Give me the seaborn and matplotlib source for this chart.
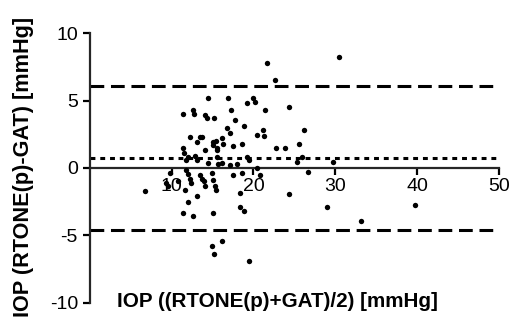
import numpy as np
import pandas as pd
import matplotlib
matplotlib.use("Agg")
import matplotlib.pyplot as plt
import seaborn as sns

sns.set_style("ticks")
plt.rcParams['font.family'] = ['Liberation Sans', 'DejaVu Sans']
plt.rcParams['axes.unicode_minus'] = False

# Bland-Altman data: mean of the two methods vs. their difference
mean_iop = [6.8, 9.8, 9.3, 9.5, 10.8, 11.6,
            11.4, 12.6, 12.7, 14.1, 14.3, 15.2,
            14.5, 16.9, 17.2, 19.2, 20.0, 20.2,
            17.8, 18.8, 20.4,
            12.2, 13.5, 13.1, 13.7,
            11.4, 11.5, 12.9, 13.1, 14.1,
            15.0, 15.1, 15.4, 15.5, 15.6, 16.1, 16.3,
            16.8, 17.1, 17.5, 18.6,
            21.6, 30.5, 22.6, 21.4, 24.3,
            21.2, 21.3, 26.2, 25.6, 22.8, 23.8,
            15.5, 19.2, 19.5, 25.3, 25.9, 29.7, 26.7,
            14.4, 16.1, 17.1, 18.0, 12.0, 11.8, 15.7,
            20.4, 20.8, 17.5, 18.6,
            11.8, 12.0, 12.2, 12.4,
            13.5, 13.7, 13.9, 14.1,
            14.9, 15.1, 15.3, 15.4,
            13.1, 12.0, 11.4, 12.6, 15.1,
            18.3, 24.4, 18.4, 18.8,
            29.0, 39.7, 33.2,
            14.9, 16.1, 15.2, 19.4]
diff_iop = [-1.7, -0.4, -1.1, -1.3, -1.0, -1.6,
            4.0, 4.3, 4.0, 3.9, 3.7, 3.7,
            5.2, 5.2, 4.3, 4.8, 5.2, 4.9,
            3.55, 3.1, 2.45,
            2.3, 2.3, 1.95, 2.3,
            1.5, 1.1, 0.9, 0.6, 1.3,
            1.9, 1.7, 2.0, 1.5, 1.3, 2.2, 1.8,
            3.0, 2.6, 1.6, 1.75,
            7.8, 8.2, 6.5, 4.3, 4.5,
            2.8, 2.4, 2.8, 1.8, 1.45, 1.45,
            0.85, 0.85, 0.6, 0.45, 0.8, 0.45, -0.3,
            0.35, 0.35, 0.2, 0.3, 0.8, 0.6, 0.3,
            0.0, -0.5, -0.5, -0.4,
            -0.15, -0.45, -0.8, -1.1,
            -0.5, -0.8, -1.0, -1.3,
            -0.4, -0.9, -1.3, -1.6,
            -2.1, -2.5, -3.3, -3.55, -3.35,
            -1.85, -1.9, -2.9, -3.2,
            -2.9, -2.75, -3.9,
            -5.8, -5.4, -6.4, -6.9]

bias = 0.72
upper_loa = 6.1
lower_loa = -4.6

df = pd.DataFrame({"mean": mean_iop, "diff": diff_iop})

fig = plt.figure(figsize=(5.16, 3.24), dpi=100)
ax = fig.add_axes([0.174, 0.065, 0.793, 0.833])

sns.scatterplot(data=df, x="mean", y="diff", ax=ax, color="black",
                s=15, linewidth=0, zorder=3)

ax.axhline(upper_loa, color="black", lw=2.2, dashes=(4.5, 2.2))
ax.axhline(lower_loa, color="black", lw=2.2, dashes=(4.5, 2.2))
ax.axhline(bias, color="black", lw=2.2, dashes=(1.6, 1.6))

ax.set_xlim(0, 50)
ax.set_ylim(-10, 10)
ax.spines["top"].set_visible(False)
ax.spines["right"].set_visible(False)
ax.spines["bottom"].set_position(("data", 0))
ax.spines["bottom"].set_linewidth(1.6)
ax.spines["left"].set_linewidth(1.6)
ax.set_xticks([10, 20, 30, 40, 50])
ax.set_yticks([-10, -5, 0, 5, 10])
ax.tick_params(axis="both", width=1.6, length=5, labelsize=14,
               colors="black", labelcolor="black")
ax.tick_params(axis="x", pad=2)

ax.set_xlabel("IOP ((RTONE(p)+GAT)/2) [mmHg]", fontsize=14.9,
              fontweight="bold", color="black")
ax.xaxis.set_label_coords(0.458, 0.04)
ax.set_ylabel("IOP (RTONE(p)-GAT) [mmHg]", fontsize=15.6,
              fontweight="bold", color="black")
ax.yaxis.set_label_coords(-0.137, 0.504)

fig.savefig("out.png", dpi=100)
